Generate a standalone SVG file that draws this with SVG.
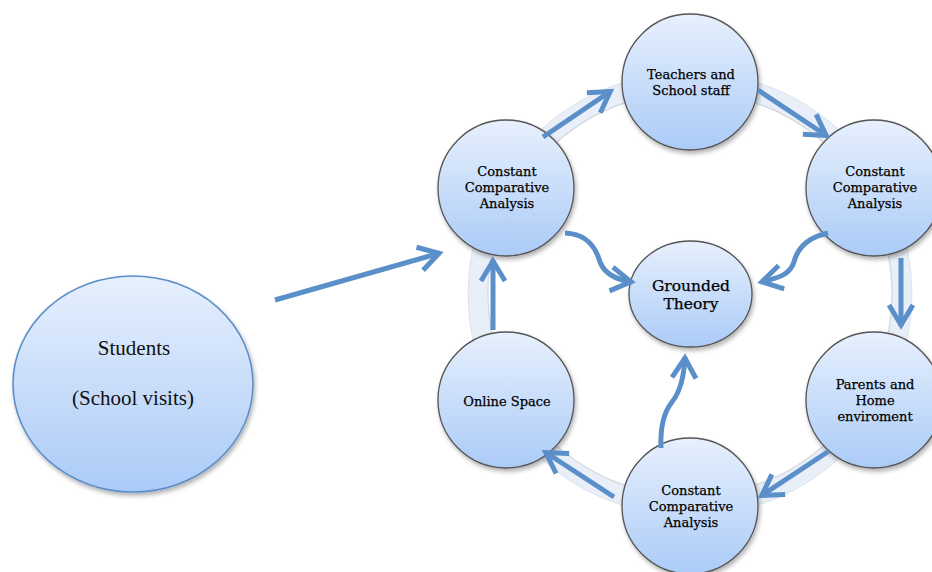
<svg xmlns="http://www.w3.org/2000/svg" width="932" height="572" viewBox="0 0 932 572">
  <defs>
    <linearGradient id="g" x1="0" y1="0" x2="0" y2="1">
      <stop offset="0" stop-color="#e7f0fd"/>
      <stop offset="1" stop-color="#abcbf7"/>
    </linearGradient>
    <filter id="sh" x="-20%" y="-20%" width="150%" height="150%">
      <feDropShadow dx="1.5" dy="3" stdDeviation="2" flood-color="#000" flood-opacity="0.3"/>
    </filter>
    <marker id="ah" markerUnits="userSpaceOnUse" viewBox="-26 -16 32 32" refX="1" refY="0" markerWidth="32" markerHeight="32" orient="auto">
      <path d="M-20,-12 L0,0 L-20,12" fill="none" stroke="#5b8fc9" stroke-width="5" stroke-linejoin="miter"/>
    </marker>
    <style>
      .node { fill: url(#g); stroke: #555; stroke-width: 1.3; filter: url(#sh); }
      .stud { fill: url(#g); stroke: #5b8fc9; stroke-width: 1.6; filter: url(#sh); }
      .lbl { font-family: "DejaVu Serif", "Liberation Serif", serif; font-size: 13px; fill: #000; stroke: #000; stroke-width: 0.25; text-anchor: middle; }
      .big { font-size: 15.5px; }
      .tnr { font-family: "Liberation Serif", "Times New Roman", serif; font-size: 21px; fill: #111; text-anchor: middle; }
      .arr { fill: none; stroke: #5b8fc9; stroke-width: 5; marker-end: url(#ah); }
    </style>
  </defs>
  <rect width="932" height="572" fill="#ffffff"/>

  <g id="ring">
    <circle cx="690" cy="294" r="212" fill="none" stroke="#e9eff8" stroke-width="20"/>
    <circle cx="690" cy="294" r="202" fill="none" stroke="#b9bec6" stroke-width="1.2" opacity="0.55"/>
    <circle cx="690" cy="294" r="222" fill="none" stroke="#c9ced6" stroke-width="1" opacity="0.45"/>
  </g>

  <g id="students">
    <ellipse class="stud" cx="133" cy="384" rx="120" ry="108"/>
    <text class="tnr" x="134" y="355">Students</text>
    <text class="tnr" x="133" y="405">(School visits)</text>
  </g>

  <g id="teachers">
    <circle class="node" cx="690" cy="82" r="68"/>
    <text class="lbl" x="691" y="79">Teachers and</text>
    <text class="lbl" x="691" y="95">School staff</text>
  </g>

  <g id="cca-left">
    <circle class="node" cx="506" cy="188" r="68"/>
    <text class="lbl" x="507" y="176">Constant</text>
    <text class="lbl" x="507" y="192">Comparative</text>
    <text class="lbl" x="507" y="208">Analysis</text>
  </g>

  <g id="cca-right">
    <circle class="node" cx="874" cy="188" r="68"/>
    <text class="lbl" x="875" y="176">Constant</text>
    <text class="lbl" x="875" y="192">Comparative</text>
    <text class="lbl" x="875" y="208">Analysis</text>
  </g>

  <g id="grounded">
    <ellipse class="node" cx="690.5" cy="294" rx="61.5" ry="53"/>
    <text class="lbl big" x="691" y="291">Grounded</text>
    <text class="lbl big" x="691" y="309">Theory</text>
  </g>

  <g id="online">
    <circle class="node" cx="506" cy="400" r="68"/>
    <text class="lbl" x="507" y="406">Online Space</text>
  </g>

  <g id="parents">
    <circle class="node" cx="874" cy="400" r="68"/>
    <text class="lbl" x="875" y="389">Parents and</text>
    <text class="lbl" x="875" y="405">Home</text>
    <text class="lbl" x="875" y="421">enviroment</text>
  </g>

  <g id="cca-bottom">
    <circle class="node" cx="690" cy="506" r="68"/>
    <text class="lbl" x="691" y="495">Constant</text>
    <text class="lbl" x="691" y="511">Comparative</text>
    <text class="lbl" x="691" y="527">Analysis</text>
  </g>

  <g id="connectors">
    <path class="arr" d="M275,300 L440,253"/>
    <path class="arr" d="M543,137 L611,91"/>
    <path class="arr" d="M758,90 L827,136"/>
    <path class="arr" d="M901,258 L901,326"/>
    <path class="arr" d="M829,451 L761,496"/>
    <path class="arr" d="M614,497 L545,452"/>
    <path class="arr" d="M493,330 L493,260"/>
    <path class="arr" d="M565,233 C588,234 596,248 600,262 C605,275 618,280 632,282"/>
    <path class="arr" d="M828,233 C805,238 797,250 794,262 C790,275 778,278 761,282"/>
    <path class="arr" d="M661,448 C660,425 664,412 672,402 C680,392 684,378 685,357"/>
  </g>
</svg>
